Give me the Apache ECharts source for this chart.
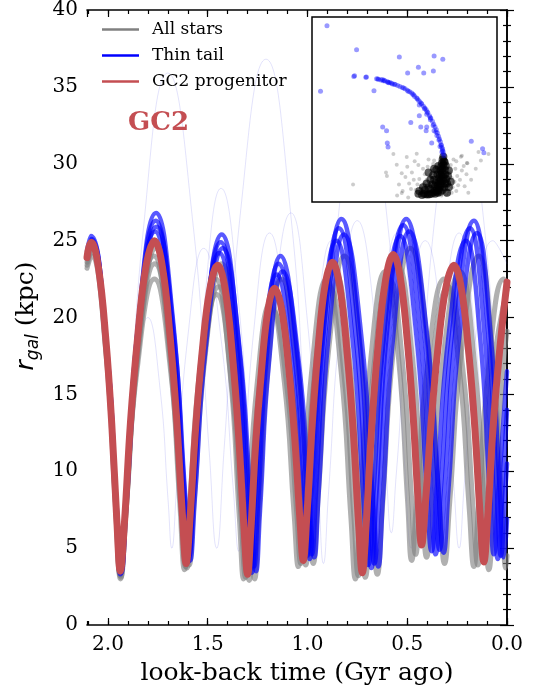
<!DOCTYPE html>
<html><head><meta charset="utf-8">
<script src="https://cdn.jsdelivr.net/npm/echarts@6/dist/echarts.min.js"></script>
<style>html,body{margin:0;padding:0;background:#fff}#c{width:539px;height:691px}</style>
</head><body><div id="c"></div>
<script>
// ---- data: [look-back time (Gyr), r_gal (kpc)] ----
const progenitor = [[2.105,23.9],[2.095,24.6],[2.083,24.9],[2.047,23.2],[2.010,18.5],[1.981,13.1],[1.955,6.7],[1.938,3.5],[1.917,6.7],[1.887,13.2],[1.852,18.6],[1.810,23.3],[1.767,25.0],[1.727,23.3],[1.688,18.7],[1.656,13.5],[1.627,7.2],[1.608,4.0],[1.589,6.9],[1.561,12.7],[1.529,17.6],[1.490,21.8],[1.450,23.4],[1.412,21.8],[1.375,17.4],[1.345,12.3],[1.318,6.3],[1.300,3.3],[1.284,6.1],[1.260,11.7],[1.232,16.3],[1.199,20.4],[1.165,21.9],[1.129,20.5],[1.093,16.6],[1.064,12.2],[1.038,6.9],[1.021,4.2],[1.003,7.1],[0.977,12.9],[0.948,17.8],[0.912,22.1],[0.875,23.6],[0.838,22.0],[0.800,17.5],[0.770,12.5],[0.743,6.4],[0.725,3.4],[0.706,6.5],[0.679,12.7],[0.648,17.9],[0.609,22.4],[0.570,24.1],[0.535,22.6],[0.499,18.4],[0.471,13.7],[0.445,8.0],[0.428,5.2],[0.409,7.9],[0.379,13.4],[0.347,17.9],[0.307,21.9],[0.266,23.4],[0.229,21.9],[0.191,17.6],[0.161,12.8],[0.134,7.0],[0.116,4.1],[0.097,7.0],[0.070,12.8],[0.038,17.7],[0.0,22.3]];

const thinTail1 = [[2.105,24.0],[2.083,25.0],[2.010,18.5],[1.960,7.6],[1.938,3.3],[1.912,7.8],[1.851,18.9],[1.764,25.6],[1.684,19.2],[1.627,8.6],[1.603,4.3],[1.579,8.3],[1.522,18.2],[1.442,24.2],[1.365,18.0],[1.311,7.7],[1.288,3.6],[1.268,7.4],[1.222,17.0],[1.155,22.8],[1.078,17.3],[1.024,8.2],[1.001,4.5],[0.979,8.6],[0.928,18.9],[0.855,25.0],[0.775,18.7],[0.719,8.1],[0.695,3.9],[0.671,8.2],[0.615,18.9],[0.535,25.3],[0.457,19.2],[0.402,8.9],[0.378,4.8],[0.352,8.8],[0.292,18.9],[0.206,25.0],[0.136,18.9],[0.087,8.7],[0.066,4.6],[0.043,8.7],[0.0,16.5]];
const thinTail2 = [[2.105,24.1],[2.083,25.1],[2.010,18.7],[1.958,7.9],[1.936,3.6],[1.910,8.1],[1.849,19.5],[1.761,26.3],[1.680,19.6],[1.623,8.5],[1.598,4.1],[1.574,8.3],[1.517,18.7],[1.435,24.9],[1.357,18.5],[1.302,7.7],[1.278,3.4],[1.258,7.4],[1.212,17.5],[1.145,23.5],[1.067,17.7],[1.012,8.1],[0.989,4.3],[0.967,8.6],[0.916,19.4],[0.842,25.8],[0.761,19.2],[0.704,8.1],[0.680,3.7],[0.656,8.2],[0.600,19.3],[0.520,26.0],[0.439,19.6],[0.382,8.9],[0.358,4.6],[0.332,8.8],[0.272,19.4],[0.186,25.8],[0.116,19.4],[0.067,8.6],[0.046,4.3],[0.023,8.6],[0.0,14.0]];
const thinTail3 = [[2.105,24.3],[2.085,25.3],[2.010,18.8],[1.957,7.9],[1.934,3.5],[1.908,8.2],[1.847,19.8],[1.759,26.8],[1.676,20.1],[1.618,9.0],[1.593,4.5],[1.569,8.7],[1.512,19.1],[1.430,25.4],[1.349,18.9],[1.292,8.1],[1.268,3.8],[1.248,7.8],[1.202,17.9],[1.135,24.0],[1.057,18.2],[1.002,8.5],[0.978,4.6],[0.956,9.0],[0.904,19.9],[0.830,26.4],[0.748,19.7],[0.690,8.5],[0.665,4.0],[0.641,8.5],[0.585,19.7],[0.505,26.4],[0.422,20.0],[0.363,9.2],[0.338,4.9],[0.312,9.2],[0.252,19.9],[0.166,26.3],[0.099,19.8],[0.051,8.9],[0.031,4.5],[0.008,8.9],[0.0,10.5]];
const thinTail4 = [[2.105,24.0],[2.085,24.9],[2.009,18.5],[1.956,7.7],[1.933,3.4],[1.907,7.9],[1.845,19.2],[1.757,25.9],[1.673,19.4],[1.613,8.5],[1.588,4.2],[1.564,8.3],[1.507,18.4],[1.425,24.5],[1.342,18.2],[1.283,7.7],[1.258,3.5],[1.238,7.4],[1.192,17.2],[1.125,23.0],[1.046,17.4],[0.990,8.1],[0.966,4.4],[0.944,8.6],[0.892,19.1],[0.817,25.4],[0.731,18.9],[0.671,8.1],[0.645,3.8],[0.622,8.2],[0.568,19.1],[0.490,25.6],[0.404,19.3],[0.344,8.9],[0.318,4.7],[0.293,8.9],[0.235,19.3],[0.151,25.5],[0.084,19.2],[0.036,8.6],[0.016,4.4],[0.0,6.9]];

const allStars1 = [[2.105,23.6],[2.083,24.5],[2.010,18.1],[1.960,7.5],[1.938,3.2],[1.913,7.4],[1.854,17.8],[1.770,24.0],[1.693,17.9],[1.639,7.7],[1.616,3.6],[1.593,7.4],[1.538,16.8],[1.460,22.5],[1.390,16.7],[1.341,6.9],[1.320,3.0],[1.300,6.6],[1.253,15.6],[1.185,21.0],[1.116,15.8],[1.067,7.2],[1.046,3.8],[1.025,7.5],[0.976,16.9],[0.905,22.5],[0.833,16.7],[0.782,6.9],[0.760,3.0],[0.738,7.0],[0.685,17.0],[0.610,23.0],[0.544,17.4],[0.498,8.0],[0.478,4.2],[0.454,7.9],[0.397,17.0],[0.316,22.5],[0.241,16.9],[0.189,7.5],[0.166,3.8],[0.144,7.5],[0.091,16.9],[0.016,22.5],[0.0,22.2]];
const allStars2 = [[2.105,23.4],[2.083,24.3],[2.010,17.9],[1.959,7.3],[1.937,3.0],[1.911,7.1],[1.851,17.4],[1.765,23.5],[1.685,17.6],[1.628,7.7],[1.604,3.7],[1.580,7.4],[1.525,16.5],[1.445,22.0],[1.369,16.3],[1.315,6.7],[1.292,2.9],[1.272,6.6],[1.225,15.9],[1.157,21.5],[1.083,16.2],[1.031,7.4],[1.009,3.9],[0.987,7.7],[0.936,17.3],[0.863,23.0],[0.787,17.0],[0.733,7.1],[0.710,3.1],[0.686,7.2],[0.630,17.4],[0.550,23.5],[0.477,17.8],[0.425,8.2],[0.403,4.4],[0.378,8.1],[0.320,17.4],[0.236,23.0],[0.164,17.2],[0.113,7.5],[0.091,3.6],[0.069,7.5],[0.016,17.2],[0.0,19.1]];
const allStars3 = [[2.105,23.8],[2.083,24.7],[2.009,18.2],[1.957,7.4],[1.935,3.1],[1.909,7.4],[1.847,18.1],[1.759,24.5],[1.676,18.3],[1.618,8.0],[1.593,3.9],[1.569,7.8],[1.512,17.6],[1.430,23.5],[1.348,17.4],[1.290,7.1],[1.265,3.0],[1.245,6.9],[1.198,16.7],[1.130,22.5],[1.051,17.0],[0.995,7.7],[0.971,4.0],[0.948,8.0],[0.893,18.0],[0.815,24.0],[0.733,17.8],[0.675,7.4],[0.650,3.3],[0.625,7.5],[0.568,18.1],[0.485,24.5],[0.399,18.4],[0.339,8.1],[0.313,4.0],[0.287,8.0],[0.227,18.0],[0.141,24.0],[0.074,17.9],[0.026,7.8],[0.006,3.7],[0.0,4.5]];
const allStars4 = [[2.105,23.2],[2.083,24.0],[2.011,17.8],[1.961,7.4],[1.939,3.3],[1.913,7.1],[1.853,16.7],[1.767,22.5],[1.689,16.9],[1.634,7.5],[1.611,3.8],[1.588,7.3],[1.533,16.2],[1.455,21.5],[1.383,16.0],[1.332,6.8],[1.310,3.1],[1.290,6.6],[1.243,15.3],[1.175,20.5],[1.104,15.6],[1.054,7.3],[1.033,4.0],[1.012,7.6],[0.962,16.6],[0.890,22.0],[0.818,16.4],[0.767,7.0],[0.745,3.2],[0.722,7.1],[0.668,16.7],[0.590,22.5],[0.524,17.1],[0.478,8.2],[0.458,4.6],[0.434,8.1],[0.377,16.8],[0.296,22.0],[0.221,16.6],[0.169,7.5],[0.146,3.9],[0.124,7.5],[0.071,16.6],[0.0,21.8]];

const faint1 = [[2.105,24.0],[2.083,25.0],[2.010,18.5],[1.959,7.7],[1.937,3.4],[1.901,9.9],[1.819,26.2],[1.700,35.9],[1.578,26.6],[1.492,11.2],[1.455,5.0],[1.418,11.4],[1.332,27.3],[1.208,36.8],[1.087,27.1],[1.002,11.0],[0.965,4.5],[0.929,10.8],[0.845,26.6],[0.725,36.0],[0.603,26.7],[0.517,11.2],[0.480,5.0],[0.444,11.2],[0.360,26.7],[0.240,36.0],[0.120,26.7],[0.036,11.2],[0.0,5.0]];
const faint2 = [[2.105,23.8],[2.083,24.6],[2.009,18.4],[1.957,8.1],[1.935,4.0],[1.909,8.0],[1.848,18.0],[1.760,24.0],[1.675,18.5],[1.616,9.2],[1.590,5.5],[1.566,10.1],[1.512,21.5],[1.433,28.4],[1.347,21.2],[1.286,9.3],[1.260,4.5],[1.233,9.0],[1.172,20.1],[1.083,26.8],[1.002,20.0],[0.944,8.6],[0.920,4.0],[0.895,8.5],[0.835,19.6],[0.750,26.3],[0.665,20.2],[0.606,10.1],[0.580,6.0],[0.555,9.8],[0.495,19.3],[0.410,25.0],[0.325,19.0],[0.266,9.0],[0.240,5.0],[0.215,9.0],[0.155,19.0],[0.070,25.0],[0.0,23.5]];
const faint3 = [[2.105,24.0],[2.083,24.8],[2.010,18.4],[1.958,7.8],[1.936,3.6],[1.916,6.9],[1.868,15.1],[1.800,20.0],[1.740,15.5],[1.698,8.0],[1.680,5.0],[1.656,8.9],[1.600,18.7],[1.520,24.5],[1.433,18.6],[1.371,8.7],[1.345,4.8],[1.322,8.9],[1.268,19.3],[1.190,25.5],[1.110,19.4],[1.054,9.3],[1.030,5.2],[1.008,9.2],[0.955,19.1],[0.880,25.0],[0.800,18.9],[0.744,8.6],[0.720,4.5],[0.695,8.7],[0.635,19.2],[0.550,25.5],[0.475,19.7],[0.423,9.9],[0.400,6.0],[0.376,9.9],[0.320,19.7],[0.240,25.5],[0.165,19.5],[0.113,9.5],[0.090,5.5],[0.068,9.5],[0.0,17.0]];

// inset (arbitrary colour / magnitude units 0-100)
const insetTailPts = [[34.9,66.6],[36.0,66.3],[37.2,66.0],[38.5,65.6],[39.5,65.4],[40.8,65.0],[42.1,64.6],[43.0,64.2],[44.5,63.7],[46.3,63.0],[47.5,62.4],[48.8,61.9],[50.3,61.2],[51.5,60.4],[52.8,59.6],[53.9,58.9],[55.0,57.8],[56.6,56.2],[57.5,55.0],[58.3,54.2],[59.3,53.0],[60.2,51.8],[61.0,50.8],[61.7,49.9],[62.6,48.3],[63.5,46.6],[64.2,45.3],[65.1,43.6],[65.8,42.0],[66.5,40.5],[67.2,39.0],[67.8,37.3],[68.4,35.6],[68.9,34.1],[69.4,32.6],[69.8,31.0],[70.2,29.5],[70.5,27.9],[71.0,26.1],[70.2,27.0],[69.2,30.0],[67.5,36.0],[66.0,38.5],[64.0,44.5],[62.0,47.5],[58.0,52.5],[55.5,57.0],[52.0,59.8],[45.0,63.5],[41.5,64.5],[39.0,65.8],[35.5,66.5],[38.0,66.2],[43.5,63.8],[70.6,28.6],[69.9,30.6],[68.6,33.5],[67.0,37.8],[65.5,41.4],[63.9,45.7],[62.2,48.8],[60.8,50.4],[59.0,53.4],[56.9,55.8],[54.5,58.2],[49.5,61.6],[41.0,64.7],[71.3,25.0],[70.9,27.3],
 [8.1,95.3],[24.1,82.3],[47.2,78.4],[66.0,78.9],[70.7,77.1],[57.5,72.8],[51.7,69.7],[60.4,69.7],[65.6,70.8],[22.6,67.9],[23.0,68.2],[29.1,67.4],[29.4,67.6],[4.6,59.8],[33.5,60.2],[38.2,40.5],[40.3,38.5],[40.7,31.9],[41.1,29.7],[53.4,43.0],[58.0,46.6],[58.8,40.5],[62.0,40.5],[61.7,38.5],[64.7,31.9],[86.1,32.8],[92.2,28.8],[92.9,26.6]];
const insetCorePts = [[71.0,24.5],[70.6,23.0],[71.3,22.0],[70.2,21.0],[70.9,20.0],[69.8,19.0],[70.5,18.0],[69.5,17.0],[70.2,16.0],[69.2,15.0],[70.0,14.0],[68.8,13.0],[69.6,12.0],[68.5,11.0],[69.3,10.0],[68.0,9.0],[69.0,8.0],[67.5,7.0],[68.5,6.5],[66.5,6.0],[67.5,5.5],[65.5,5.0],[66.5,4.5],[64.5,4.5],[63.5,4.2],[62.5,4.0],[61.5,4.2],[60.5,4.5],[68.0,5.0],[69.5,5.5],[70.5,6.5],[71.5,8.0],[72.0,10.0],[72.5,12.5],[72.0,15.0],[71.8,17.5],[72.3,19.5],[71.7,21.5],[67.0,10.5],[66.0,12.0],[67.8,15.0],[66.5,8.5],[65.0,9.5],[64.0,7.0],[63.0,8.0],[70.8,11.5],[71.2,13.5],[70.0,9.5],[67.2,17.5],[68.3,19.5],[58.0,6.0],[60.0,8.0],[62.0,10.0],[74.0,8.0],[75.0,11.0],[73.5,14.0],[64.0,12.0],[63.0,16.0],[66.0,18.0],[74.0,17.0],[57.5,4.5],[59.5,3.8],[73.0,5.0],[61.0,6.5],[65.5,14.5],[73.0,10.0]];
const insetHaloPts = [[74.0,10.0],[75.5,13.0],[74.5,16.0],[76.0,8.0],[73.5,6.0],[77.0,11.0],[78.5,14.0],[77.5,18.0],[73.0,21.0],[75.0,20.0],[80.0,12.0],[79.0,9.0],[81.0,17.0],[76.5,23.0],[62.0,12.0],[60.5,10.0],[59.0,8.0],[61.0,15.0],[63.5,14.0],[64.5,17.0],[62.5,19.0],[58.0,12.5],[57.0,9.5],[56.0,6.5],[58.5,5.5],[55.0,12.0],[60.0,18.0],[65.5,20.5],[66.0,22.5],[63.0,23.0],[54.0,16.0],[57.5,20.0],[52.5,10.0],[53.5,7.0],[74.0,4.5],[72.5,3.8],[70.0,3.5],[68.5,3.8],[75.5,5.0],[78.0,6.0],[82.5,8.5],[83.5,15.0],[84.0,21.0],[80.5,24.5],[78.0,22.0],[82.0,19.5],[50.5,13.5],[51.5,19.0],[55.5,22.0],[49.0,6.0],[47.0,9.5],[48.5,15.5],
 [22.2,9.4],[40.0,16.0],[45.8,20.2],[48.5,4.9],[51.2,24.3],[56.6,26.1],[81.0,25.0],[83.7,21.1],[95.4,25.9],[91.3,22.5],[40.5,14.0],[44.0,26.0],[86.0,12.0],[88.5,18.0],[46.0,3.5],[52.0,2.5],[84.5,5.0],[90.0,27.0]];

const legendNames = ['All stars', 'Thin tail', 'GC2 progenitor'];
const xTickInterval = 0.5, xMinorInterval = 0.1, yTickInterval = 5;

// ---- chart ----
const FONT = 'DejaVu Serif';
const RED = '#c44e52', GRAY = '#808080', BLUE = '#0000ff';
const chart = echarts.init(document.getElementById('c'), null, {renderer: 'canvas'});

function line(name, data, color, width, opacity, smooth, z) {
  return {type: 'line', name, data, xAxisIndex: 0, yAxisIndex: 0, symbol: 'none', smooth,
    lineStyle: {color, width, opacity, cap: 'round', join: 'round'}, itemStyle: {color},
    silent: true, z, animation: false, emphasis: {disabled: true}};
}
const axLine = {show: true, lineStyle: {color: '#000', width: 1.6}};
const tickMajor = {show: true, inside: true, length: 7, lineStyle: {color: '#000', width: 1.2}};
const tickMinor = {show: true, inside: true, length: 4, lineStyle: {color: '#000', width: 1.2}};
const lbl = {fontFamily: FONT, fontSize: 20, color: '#000'};
const xBase = {type: 'value', gridIndex: 0, min: 0, max: 2.105, inverse: true, splitLine: {show: false}};

const faintColor = 'rgba(60,60,230,0.14)';
const series = [
  line('faint', faint1, faintColor, 1, 1, 0.5, 1),
  line('faint', faint2, faintColor, 1, 1, 0.5, 1),
  line('faint', faint3, faintColor, 1, 1, 0.5, 1),
  line('All stars', allStars1, GRAY, 5, 0.62, 0.5, 2),
  line('All stars', allStars2, GRAY, 5, 0.62, 0.5, 2),
  line('All stars', allStars3, GRAY, 5, 0.62, 0.5, 2),
  line('All stars', allStars4, GRAY, 5, 0.62, 0.5, 2),
  line('Thin tail', thinTail1, BLUE, 4.5, 0.65, 0.5, 3),
  line('Thin tail', thinTail2, BLUE, 4.5, 0.65, 0.5, 3),
  line('Thin tail', thinTail3, BLUE, 4.5, 0.65, 0.5, 3),
  line('Thin tail', thinTail4, BLUE, 4.5, 0.65, 0.5, 3),
  line('GC2 progenitor', progenitor, RED, 7, 1, 0.4, 4),
  {type: 'scatter', xAxisIndex: 4, yAxisIndex: 2, data: insetHaloPts, symbolSize: 4, silent: true, z: 12,
   itemStyle: {color: 'rgba(0,0,0,0.25)'}},
  {type: 'scatter', xAxisIndex: 4, yAxisIndex: 2, data: insetCorePts, symbolSize: 8, silent: true, z: 12,
   itemStyle: {color: 'rgba(0,0,0,0.8)'}},
  {type: 'scatter', xAxisIndex: 4, yAxisIndex: 2, data: insetTailPts, symbolSize: 5, silent: true, z: 13,
   itemStyle: {color: 'rgba(0,0,255,0.5)'}}
];

chart.setOption({
  animation: false,
  textStyle: {fontFamily: FONT},
  grid: [
    {left: 87, top: 7, width: 420, height: 618, containLabel: false},
    {left: 312, top: 17, width: 185, height: 185, show: true, backgroundColor: '#fff',
     borderColor: '#000', borderWidth: 1.5, z: 10}
  ],
  xAxis: [
    Object.assign({}, xBase, {position: 'bottom', interval: xTickInterval, axisLine: axLine, axisTick: tickMajor,
      axisLabel: Object.assign({}, lbl, {margin: 10, showMaxLabel: false, formatter: v => v.toFixed(1)})}),
    Object.assign({}, xBase, {position: 'bottom', interval: xMinorInterval, axisLine: {show: false}, axisTick: tickMinor, axisLabel: {show: false}}),
    Object.assign({}, xBase, {position: 'top', interval: xTickInterval, axisLine: axLine, axisTick: tickMajor, axisLabel: {show: false}}),
    Object.assign({}, xBase, {position: 'top', interval: xMinorInterval, axisLine: {show: false}, axisTick: tickMinor, axisLabel: {show: false}}),
    {type: 'value', gridIndex: 1, min: 0, max: 100, show: false}
  ],
  yAxis: [
    {type: 'value', gridIndex: 0, position: 'left', min: 0, max: 40, interval: yTickInterval, axisLine: axLine, axisTick: tickMajor,
     minorTick: {show: true, splitNumber: 5, length: 4, lineStyle: {color: '#000', width: 1.2}},
     axisLabel: Object.assign({}, lbl, {margin: 9}), splitLine: {show: false}, minorSplitLine: {show: false}},
    {type: 'value', gridIndex: 0, position: 'right', min: 0, max: 40, interval: yTickInterval, axisLine: axLine, axisTick: tickMajor,
     minorTick: {show: true, splitNumber: 5, length: 4, lineStyle: {color: '#000', width: 1.2}},
     axisLabel: {show: false}, splitLine: {show: false}, minorSplitLine: {show: false}},
    {type: 'value', gridIndex: 1, min: 0, max: 100, show: false}
  ],
  legend: {
    orient: 'vertical', left: 97, top: 16, itemWidth: 37, itemHeight: 16, itemGap: 9,
    data: legendNames, selectedMode: false,
    icon: 'path://M0 0H37V2.6H0Z',
    itemStyle: {opacity: 1},
    textStyle: {fontFamily: FONT, fontSize: 17, color: '#000', padding: [0, 0, 0, 8]}
  },
  graphic: [
    {type: 'text', x: 128, y: 123, z: 100, style: {text: 'GC2', font: 'bold 26px "DejaVu Serif"', fill: RED, align: 'left', verticalAlign: 'middle'}},
    {type: 'text', x: 297, y: 673, z: 100, style: {text: 'look-back time (Gyr ago)', font: '25px "DejaVu Serif"', fill: '#000', align: 'center', verticalAlign: 'middle'}},
    {type: 'text', x: 28, y: 316, rotation: Math.PI / 2, z: 100, style: {
      text: '{i|r}{s|gal}{n| (kpc)}', fill: '#000', align: 'center', verticalAlign: 'middle',
      rich: {
        i: {fontFamily: 'DejaVu Sans', fontStyle: 'italic', fontSize: 25, verticalAlign: 'top', padding: [0, 0, 0, 0]},
        s: {fontFamily: 'DejaVu Sans', fontStyle: 'italic', fontSize: 17, verticalAlign: 'top', padding: [12, 0, 0, 0]},
        n: {fontFamily: FONT, fontSize: 25, verticalAlign: 'top', padding: [0, 0, 0, 0]}
      }}}
  ],
  series
});
</script>
</body></html>
